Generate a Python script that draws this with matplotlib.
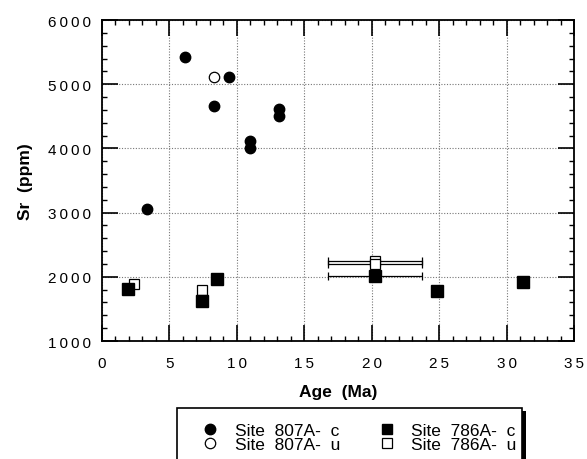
import numpy as np
import matplotlib
matplotlib.use("Agg")
import matplotlib.pyplot as plt
from matplotlib.patches import Rectangle
from matplotlib.lines import Line2D

plt.rcParams['font.family'] = ['Liberation Sans', 'DejaVu Sans']

# ---- data ----
c807_age = np.array([6.15, 9.4, 8.3, 13.1, 13.1, 10.95, 10.95, 3.35])
c807_sr = np.array([5420, 5115, 4655, 4620, 4505, 4115, 4000, 3050])
u807_age = np.array([8.3])
u807_sr = np.array([5115])
c786_age = np.array([1.9, 7.45, 8.5, 20.25, 24.85, 31.2])
c786_sr = np.array([1810, 1620, 1970, 2010, 1775, 1925])
c786_err = np.array([0, 0, 0, 3.5, 0, 0])
u786_age = np.array([2.35, 7.45, 20.25, 20.25])
u786_sr = np.array([1885, 1795, 2250, 2200])
u786_err = np.array([0, 0, 3.5, 3.5])
xticks = [0, 5, 10, 15, 20, 25, 30, 35]
yticks = [1000, 2000, 3000, 4000, 5000, 6000]
legend_labels = ['Site  807A-  c', 'Site  807A-  u', 'Site  786A-  c', 'Site  786A-  u']


def spaced(v):
    return '\u2009'.join(str(v))


W, H = 587, 460
fig = plt.figure(figsize=(W / 100, H / 100), dpi=100)
ax = fig.add_axes([102 / W, 1 - 342 / H, (574 - 102) / W, (342 - 21) / H])

ax.set_xlim(0, 35)
ax.set_ylim(1000, 6000)
ax.set_xticks(xticks)
ax.set_xticklabels([spaced(t) for t in xticks])
ax.set_yticks(yticks)
ax.set_yticklabels([spaced(t) for t in yticks])
ax.set_xticks(np.arange(0, 36, 1), minor=True)
ax.set_yticks(np.arange(1000, 6001, 200), minor=True)
ax.tick_params(which='major', direction='in', length=11.5, width=1.2,
               top=True, right=True, labelsize=11)
ax.tick_params(which='minor', direction='in', length=3.6, width=1.0,
               top=True, right=True)
ax.tick_params(axis='x', which='major', pad=11)
ax.tick_params(axis='y', which='major', pad=8)
for s in ax.spines.values():
    s.set_linewidth(1.3)
ax.grid(True, which='major', color='#777777', linestyle=(0, (1, 1.5)), linewidth=0.8)
ax.set_axisbelow(True)

# error bars
m = c786_err > 0
ax.errorbar(c786_age[m], c786_sr[m], xerr=c786_err[m], fmt='none', ecolor='black',
            elinewidth=0.9, capsize=3, capthick=0.9, zorder=2)
m2 = u786_err > 0
ax.errorbar(u786_age[m2], u786_sr[m2], xerr=u786_err[m2], fmt='none', ecolor='black',
            elinewidth=0.9, capsize=3, capthick=0.9, zorder=2)

ax.plot(u786_age, u786_sr, 's', ms=7.5, mfc='white', mec='black', mew=0.9, ls='none', zorder=3)
ax.plot(c786_age, c786_sr, 's', ms=8, mfc='black', mec='black', ls='none', zorder=4)
ax.plot(u807_age, u807_sr, 'o', ms=7.5, mfc='white', mec='black', mew=0.9, ls='none', zorder=3)
ax.plot(c807_age, c807_sr, 'o', ms=7.5, mfc='black', mec='black', ls='none', zorder=4)

ax.set_xlabel('Age  (Ma)', fontsize=12.5, fontweight='bold', labelpad=10)
ax.set_ylabel('Sr  (ppm)', fontsize=12.5, fontweight='bold', labelpad=11)

# legend box
lx0, lx1, ly0 = 177, 522, 409
fig.patches.append(Rectangle((lx1 / W, -0.05), 4 / W, 1 - (ly0 + 3) / H + 0.05,
                             transform=fig.transFigure, facecolor='black', edgecolor='none'))
fig.patches.append(Rectangle((lx0 / W, -0.05), (lx1 - lx0) / W, 1 - ly0 / H + 0.05,
                             transform=fig.transFigure, facecolor='white', edgecolor='black',
                             linewidth=1.2))

handles = [
    Line2D([], [], marker='o', ms=7.5, mfc='black', mec='black', ls='none'),
    Line2D([], [], marker='o', ms=7.5, mfc='white', mec='black', mew=0.9, ls='none'),
    Line2D([], [], marker='s', ms=7.5, mfc='black', mec='black', ls='none'),
    Line2D([], [], marker='s', ms=7.5, mfc='white', mec='black', mew=0.9, ls='none'),
]
fig.legend(handles, legend_labels, ncol=2, frameon=False, fontsize=12.5,
           loc='upper left', bbox_to_anchor=(200 / W, 1 - 424 / H),
           handlelength=1.2, handletextpad=0.8, columnspacing=2.1,
           labelspacing=-0.05, borderpad=0, borderaxespad=0)

fig.savefig('out.png', dpi=100)
